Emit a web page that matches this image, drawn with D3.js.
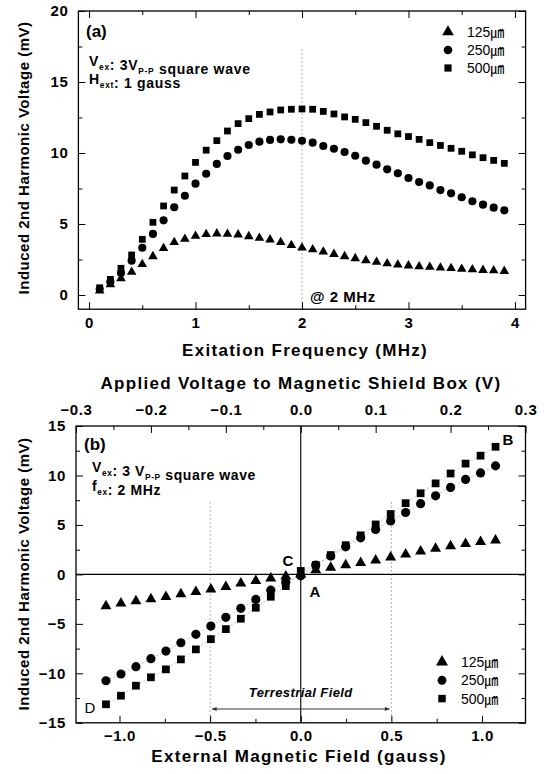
<!DOCTYPE html>
<html><head><meta charset="utf-8">
<script src="https://cdn.jsdelivr.net/npm/d3@7"></script>
<style>
html,body{margin:0;padding:0;background:#fff;}
svg{display:block;}
text{font-family:"Liberation Sans",Arial,"Noto Sans CJK KR",sans-serif;fill:#000;}
</style></head>
<body>
<svg id="c" width="546" height="774"></svg>
<script>
// ---------- Panel (a) data ----------
const freqA = [0.1,0.2,0.3,0.4,0.5,0.6,0.7,0.8,0.9,1.0,1.1,1.2,1.3,1.4,1.5,1.6,1.7,1.8,1.9,2.0,2.1,2.2,2.3,2.4,2.5,2.6,2.7,2.8,2.9,3.0,3.1,3.2,3.3,3.4,3.5,3.6,3.7,3.8,3.9];
const a125 = [0.30,0.75,1.17,1.62,2.16,2.72,3.29,3.71,3.94,4.15,4.28,4.32,4.30,4.25,4.13,4.01,3.90,3.72,3.50,3.33,3.20,3.05,2.88,2.72,2.58,2.44,2.32,2.22,2.13,2.07,2.01,1.97,1.92,1.88,1.83,1.79,1.75,1.72,1.68];
const a250 = [0.42,0.92,1.55,2.42,3.33,4.30,5.26,6.18,6.99,7.84,8.54,9.23,9.79,10.23,10.56,10.80,10.92,10.96,10.93,10.86,10.73,10.49,10.30,10.07,9.81,9.46,9.18,8.85,8.57,8.24,7.96,7.72,7.39,7.16,6.88,6.60,6.36,6.15,5.96];
const a500 = [0.51,1.10,1.88,2.82,3.92,5.12,6.27,7.39,8.38,9.34,10.20,10.87,11.55,12.07,12.42,12.72,12.89,13.03,13.08,13.10,13.08,12.93,12.75,12.54,12.37,12.14,11.88,11.60,11.35,11.16,10.96,10.73,10.53,10.33,10.12,9.87,9.67,9.48,9.27];
const ticksAx = [0,1,2,3,4];
const ticksAy = [0,5,10,15,20];

// ---------- Panel (b) data ----------
const voltB = [-0.26,-0.24,-0.22,-0.20,-0.18,-0.16,-0.14,-0.12,-0.10,-0.08,-0.06,-0.04,-0.02,0.00,0.02,0.04,0.06,0.08,0.10,0.12,0.14,0.16,0.18,0.20,0.22,0.24,0.26];
const b125 = [-3.20,-2.93,-2.70,-2.50,-2.26,-1.99,-1.76,-1.52,-1.25,-0.91,-0.65,-0.40,-0.20,0.00,0.43,0.68,0.93,1.17,1.42,1.72,2.02,2.32,2.60,2.86,3.10,3.28,3.45];
const b250 = [-10.75,-10.07,-9.33,-8.52,-7.75,-6.91,-6.06,-5.22,-4.34,-3.43,-2.53,-1.59,-0.80,-0.15,0.94,1.85,2.79,3.70,4.55,5.40,6.26,7.15,7.94,8.79,9.60,10.26,10.97];
const b500 = [-13.13,-12.26,-11.25,-10.40,-9.60,-8.59,-7.58,-6.54,-5.53,-4.48,-3.37,-2.26,-1.18,0.35,0.95,1.95,2.95,3.95,5.05,6.10,7.20,8.20,9.20,10.20,11.20,12.00,12.90];
const ticksBx = [-1.0,-0.5,0.0,0.5,1.0];
const ticksBtop = [-0.3,-0.2,-0.1,0.0,0.1,0.2,0.3];
const ticksBy = [-15,-10,-5,0,5,10,15];

const legendLabels = ["125㎛","250㎛","500㎛"];
const symbols = [d3.symbolTriangle, d3.symbolCircle, d3.symbolSquare];

const svg = d3.select("#c");
const FONT = "'Liberation Sans',Arial,sans-serif";

function styleTickText(sel){
  sel.attr("font-size",15).attr("font-weight","bold").attr("letter-spacing",0.6)
     .attr("font-family",FONT).attr("fill","#000");
}

function frameAxes(g, x, y, opt){
  const [x0,x1] = x.range(), [y0,y1] = y.range();
  g.append("g").attr("transform",`translate(0,${y0})`)
    .call(d3.axisBottom(x).tickValues(opt.xMinor).tickSize(-4).tickFormat(""))
    .call(s=>s.select(".domain").remove());
  g.append("g").attr("class","lab").attr("transform",`translate(0,${y0})`)
    .call(d3.axisBottom(x).tickValues(opt.xMajor).tickSize(-7).tickFormat(opt.xFmt).tickPadding(8))
    .call(s=>s.select(".domain").remove());
  g.append("g").attr("transform",`translate(${x0},0)`)
    .call(d3.axisLeft(y).tickValues(opt.yMinor).tickSize(-4).tickFormat(""))
    .call(s=>s.select(".domain").remove());
  g.append("g").attr("class","lab").attr("transform",`translate(${x0},0)`)
    .call(d3.axisLeft(y).tickValues(opt.yMajor).tickSize(-7).tickFormat(opt.yFmt).tickPadding(10))
    .call(s=>s.select(".domain").remove());
  g.append("g").attr("transform",`translate(${x1},0)`)
    .call(d3.axisRight(y).tickValues(opt.yMinor).tickSize(-4).tickFormat(""))
    .call(s=>s.select(".domain").remove());
  g.append("g").attr("transform",`translate(${x1},0)`)
    .call(d3.axisRight(y).tickValues(opt.yMajor).tickSize(-7).tickFormat(""))
    .call(s=>s.select(".domain").remove());
  g.selectAll(".tick line").attr("stroke","#000").attr("stroke-width",1);
  styleTickText(g.selectAll(".lab .tick text"));
  g.append("rect").attr("x",x0).attr("y",y1).attr("width",x1-x0).attr("height",y0-y1)
    .attr("fill","none").attr("stroke","#000").attr("stroke-width",1.3);
}

function labelSub(g, x, y, parts, fs, ls){
  const t = g.append("text").attr("x",x).attr("y",y).attr("font-size",fs)
    .attr("font-weight","bold").attr("letter-spacing",ls||0);
  parts.forEach(p=>{
    if(p.sub){
      t.append("tspan").attr("font-size",fs*0.6).attr("dy",4).text(p.t);
      t.append("tspan").attr("dy",-4).text("");
    } else t.append("tspan").text(p.t);
  });
  return t;
}
function legend(g, x, y0, dy, sizes){
  legendLabels.forEach((l,i)=>{
    g.append("path").attr("transform",`translate(${x},${y0+i*dy})`)
      .attr("d", d3.symbol().type(symbols[i]).size(sizes[i])).attr("fill","#000");
    g.append("text").attr("x",x+19).attr("y",y0+i*dy+5).attr("font-size",14).text(l);
  });
}
function title(g, x, y, txt){
  return g.append("text").attr("x",x).attr("y",y).attr("text-anchor","middle")
    .attr("font-size",17).attr("font-weight","bold").attr("letter-spacing",1.3).text(txt);
}
function ytitle(g, cx, cy, txt){
  return g.append("text").attr("transform",`translate(${cx},${cy}) rotate(-90)`).attr("text-anchor","middle")
    .attr("font-size",15).attr("font-weight","bold").attr("letter-spacing",0.5).text(txt);
}

// ================= Panel (a) =================
const ax = d3.scaleLinear().domain([-0.1,4.1]).range([78.4,525.6]);
const ay = d3.scaleLinear().domain([-1,20]).range([309.2,11]);
const gA = svg.append("g");

gA.append("line").attr("x1",ax(2)).attr("x2",ax(2)).attr("y1",ay(17.3)).attr("y2",ay(-1))
  .attr("stroke","#999").attr("stroke-width",1).attr("stroke-dasharray","1.5,2.5");

frameAxes(gA, ax, ay, {
  xMajor: ticksAx, xMinor:[0.5,1.5,2.5,3.5], xFmt: d3.format("d"),
  yMajor: ticksAy, yMinor:[2.5,7.5,12.5,17.5], yFmt: d3.format("d")
});
gA.append("g").attr("transform",`translate(0,${ay.range()[1]})`)
  .call(d3.axisTop(ax).tickValues(ticksAx).tickSize(-7).tickFormat(""))
  .call(s=>s.select(".domain").remove())
  .call(s=>s.selectAll("line").attr("stroke","#000"));
gA.append("g").attr("transform",`translate(0,${ay.range()[1]})`)
  .call(d3.axisTop(ax).tickValues([0.5,1.5,2.5,3.5]).tickSize(-4).tickFormat(""))
  .call(s=>s.select(".domain").remove())
  .call(s=>s.selectAll("line").attr("stroke","#000"));

const seriesA = [a125, a250, a500];
const sizesA = [40, 52, 46];
seriesA.forEach((vals,i)=>{
  gA.append("g").selectAll("path").data(vals).join("path")
    .attr("transform",(d,j)=>`translate(${ax(freqA[j])},${ay(d)})`)
    .attr("d", d3.symbol().type(symbols[i]).size(sizesA[i]))
    .attr("fill","#000");
});

gA.append("text").attr("x",86).attr("y",37).attr("font-size",17).attr("font-weight","bold").text("(a)");
labelSub(gA, 89, 66, [{t:"V"},{t:"ex",sub:true},{t:": 3V"},{t:"P-P",sub:true},{t:" square wave"}], 14, 0.7);
labelSub(gA, 89, 84, [{t:"H"},{t:"ext",sub:true},{t:": 1 gauss"}], 14, 0.7);
gA.append("text").attr("x",310).attr("y",302).attr("font-size",15).attr("font-weight","bold")
  .attr("letter-spacing",0.5).text("@ 2 MHz");
legend(gA, 448, 32, 18, [58,58,52]);

title(gA, 305, 356, "Exitation Frequency (MHz)");
ytitle(gA, 29, 158, "Induced 2nd Harmonic Voltage (mV)");

// ================= Panel (b) =================
const bx = d3.scaleLinear().domain([-1.24,1.24]).range([76,525.5]);
const bxTop = d3.scaleLinear().domain([-0.3,0.3]).range([76,525.5]);
const by = d3.scaleLinear().domain([-15,15]).range([722.8,426]);
const gB = svg.append("g");

[-0.5,0.5].forEach(v=>{
  gB.append("line").attr("x1",bx(v)).attr("x2",bx(v)).attr("y1",by(7.3)).attr("y2",by(-15))
    .attr("stroke","#999").attr("stroke-width",1).attr("stroke-dasharray","1.5,2.5");
});
gB.append("line").attr("x1",bx(0)).attr("x2",bx(0)).attr("y1",by(15)).attr("y2",by(-15)).attr("stroke","#000").attr("stroke-width",1.1);
gB.append("line").attr("x1",bx(-1.24)).attr("x2",bx(1.24)).attr("y1",by(0)).attr("y2",by(0)).attr("stroke","#000").attr("stroke-width",1.1);

frameAxes(gB, bx, by, {
  xMajor: ticksBx, xMinor:[-0.75,-0.25,0.25,0.75], xFmt: d3.format(".1f"),
  yMajor: ticksBy, yMinor:[-12.5,-7.5,-2.5,2.5,7.5,12.5], yFmt: d3.format("d")
});
const topG = gB.append("g").attr("transform",`translate(0,${by.range()[1]})`);
topG.append("g").call(d3.axisTop(bxTop).tickValues([-0.25,-0.15,-0.05,0.05,0.15,0.25]).tickSize(-4).tickFormat(""))
  .call(s=>s.select(".domain").remove());
topG.append("g").attr("class","lab").call(d3.axisTop(bxTop).tickValues(ticksBtop).tickSize(-7).tickFormat(d3.format(".1f")).tickPadding(11))
  .call(s=>s.select(".domain").remove());
topG.selectAll("line").attr("stroke","#000");
styleTickText(topG.selectAll(".lab text"));

const seriesB = [b125, b250, b500];
const sizesB = [52, 66, 60];
[b250,b500].forEach(vals=>{
  gB.append("path").datum(vals)
    .attr("d", d3.line().x((d,j)=>bxTop(voltB[j])).y(d=>by(d)))
    .attr("fill","none").attr("stroke","#aaa").attr("stroke-width",0.7).attr("stroke-dasharray","2,2");
});
seriesB.forEach((vals,i)=>{
  gB.append("g").selectAll("path").data(vals).join("path")
    .attr("transform",(d,j)=>`translate(${bxTop(voltB[j])},${by(d)})`)
    .attr("d", d3.symbol().type(symbols[i]).size(sizesB[i]))
    .attr("fill","#000");
});

gB.append("text").attr("x",84).attr("y",450).attr("font-size",17).attr("font-weight","bold").text("(b)");
labelSub(gB, 92, 472, [{t:"V"},{t:"ex",sub:true},{t:": 3 V"},{t:"P-P",sub:true},{t:" square wave"}], 14, 0.6);
labelSub(gB, 92, 491, [{t:"f"},{t:"ex",sub:true},{t:":  2 MHz"}], 14, 0.6);
gB.append("text").attr("x",508).attr("y",445).attr("text-anchor","middle").attr("font-size",15).attr("font-weight","bold").text("B");
gB.append("text").attr("x",288).attr("y",566).attr("text-anchor","middle").attr("font-size",15).attr("font-weight","bold").text("C");
gB.append("text").attr("x",315).attr("y",597).attr("text-anchor","middle").attr("font-size",15).attr("font-weight","bold").text("A");
gB.append("text").attr("x",90).attr("y",713).attr("text-anchor","middle").attr("font-size",15).text("D");

gB.append("text").attr("x",bx(0)).attr("y",697).attr("text-anchor","middle").attr("font-size",13)
  .attr("font-weight","bold").attr("font-style","italic").attr("letter-spacing",0.4).text("Terrestrial Field");
const defs = svg.append("defs");
defs.append("marker").attr("id","arr").attr("viewBox","0 0 10 10").attr("refX",9).attr("refY",5)
  .attr("markerWidth",7).attr("markerHeight",5).attr("orient","auto-start-reverse")
  .append("path").attr("d","M0,1 L10,5 L0,9 Z").attr("fill","#333");
gB.append("line").attr("x1",bx(-0.5)+2).attr("x2",bx(0.5)-2).attr("y1",709).attr("y2",709)
  .attr("stroke","#333").attr("stroke-width",1)
  .attr("marker-start","url(#arr)").attr("marker-end","url(#arr)");

legend(gB, 442, 662, 18.3, [62,62,56]);

title(gB, 301, 389, "Applied Voltage to Magnetic Shield Box (V)");
title(gB, 299, 762, "External Magnetic Field (gauss)");
ytitle(gB, 29, 574, "Induced 2nd Harmonic Voltage (mV)");
</script>
</body></html>
